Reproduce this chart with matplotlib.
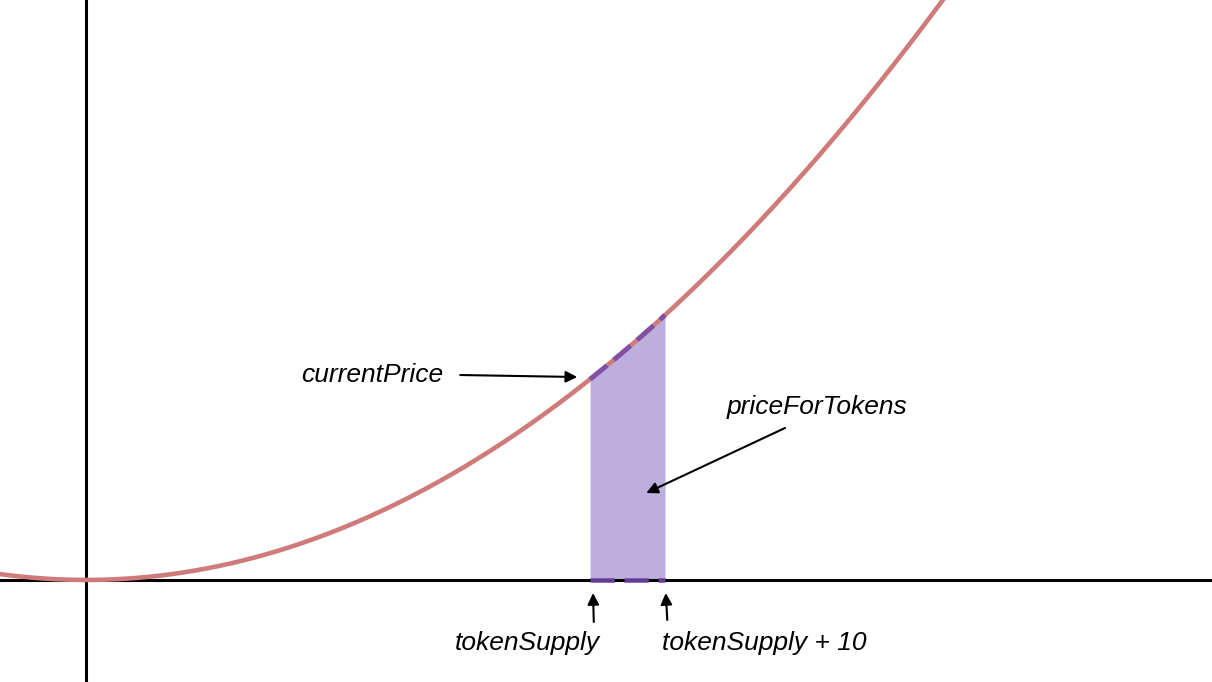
import numpy as np
import matplotlib.pyplot as plt

# bonding curve: price = coef * supply^2
price_coef = 1.0
token_supply = 67.2
tokens_bought = 10
label_current = 'currentPrice'
label_area = 'priceForTokens'
label_supply = 'tokenSupply'
label_supply_end = 'tokenSupply + 10'

curve_color = '#d07b7b'
fill_color = '#bcaedd'
dash_color = '#7449ad'

plt.rcParams['font.family'] = ['Liberation Sans', 'DejaVu Sans']

fig = plt.figure(figsize=(12.12, 6.82), dpi=100)
ax = fig.add_axes([0, 0, 1, 1])
ax.set_xlim(-11.47, 150.13)
ax.set_ylim(-2297, 13050)
ax.axis('off')

# axes through the origin
ax.axhline(0, color='black', lw=2.2, zorder=2)
ax.axvline(0, color='black', lw=2.2, zorder=2)

supply = np.linspace(-11.47, 120, 600)
price = price_coef * supply ** 2
ax.plot(supply, price, color=curve_color, lw=3.3, zorder=3)

# area under the curve for the purchased tokens
seg = np.linspace(token_supply, token_supply + tokens_bought, 100)
seg_price = price_coef * seg ** 2
ax.fill_between(seg, 0, seg_price, color=fill_color, lw=0, zorder=1)
ax.plot(seg, seg_price, color=dash_color, lw=3.5, dashes=(4.5, 1.8), alpha=0.85, zorder=4)
ax.plot([token_supply, token_supply + tokens_bought], [0, 0], color=dash_color,
        lw=3.5, dashes=(5, 2), alpha=0.85, zorder=4)

arrow = dict(arrowstyle='-|>', color='black', lw=1.5, mutation_scale=17, shrinkA=0, shrinkB=0)

ax.text(47.6, 4611, label_current, fontsize=19, style='italic', ha='right', va='center')
ax.annotate('', xy=(65.5, 4566), xytext=(49.9, 4611), arrowprops=arrow)

ax.annotate('', xy=(74.7, 1956), xytext=(93.2, 3419), arrowprops=arrow)
ax.text(97.5, 3891, label_area, fontsize=19, style='italic', ha='center', va='center')

ax.annotate('', xy=(67.6, -294), xytext=(67.7, -947), arrowprops=arrow)
ax.annotate('', xy=(77.3, -294), xytext=(77.5, -900), arrowprops=arrow)
ax.text(68.5, -1420, label_supply, fontsize=19, style='italic', ha='right', va='center')
ax.text(76.8, -1420, label_supply_end, fontsize=19, style='italic', ha='left', va='center')

fig.savefig('out.png', dpi=100)
